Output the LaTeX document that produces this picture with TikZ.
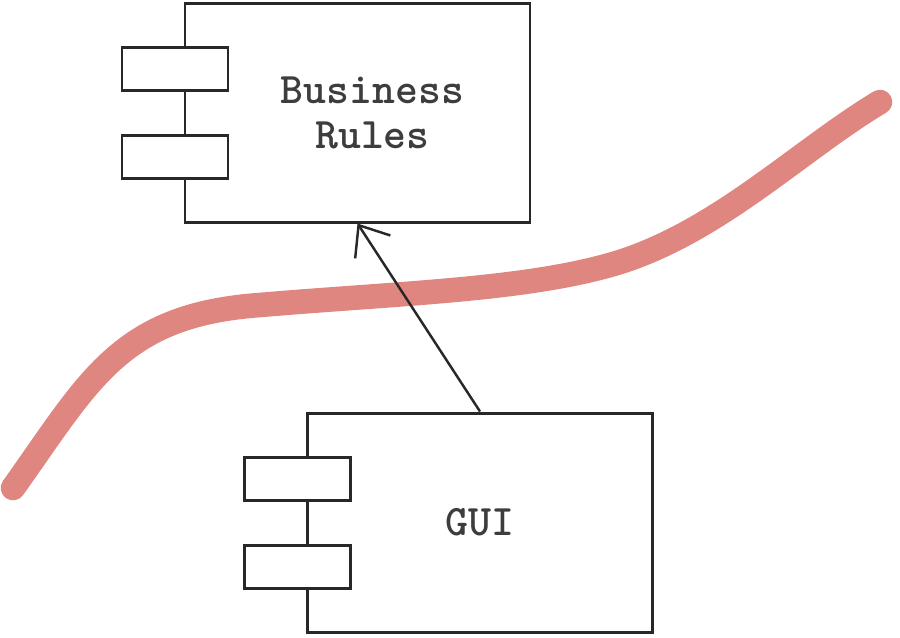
\documentclass[tikz,border=0pt]{standalone}
\usepackage{fontspec}
\usepackage{tikz}
\usetikzlibrary{arrows.meta,positioning,calc}
\usepackage{xcolor}
\definecolor{boundred}{RGB}{224,134,128}
\definecolor{inkgray}{RGB}{40,40,40}

\begin{document}
\begin{tikzpicture}[
    compbox/.style={draw=inkgray, line width=0.85pt, fill=white, align=center, font=\fontsize{12.4}{15}\selectfont\ttfamily\bfseries, text=inkgray!90, minimum width=3.45cm, minimum height=2.19cm},
    tabbox/.style={draw=inkgray, line width=0.85pt, fill=white, minimum width=1.06cm, minimum height=0.43cm},
    boundary/.style={line width=7pt, color=boundred, line cap=round},
    dep/.style={-{Straight Barb[length=2.6mm,width=4.2mm]}, line width=0.7pt, color=inkgray}
  ]
    \useasboundingbox (0,0) rectangle (9,-6.37);

    % boundary line
    \draw[boundary] (0.13,-4.88) .. controls (0.9,-3.8) and (1.2,-3.15) .. (2.6,-3.05)
      .. controls (4.0,-2.93) and (5.3,-2.9) .. (6.2,-2.62)
      .. controls (7.2,-2.3) and (8.0,-1.5) .. (8.8,-1.02);

    \node[compbox] (rules) at (3.575,-1.125) {\hspace*{0.3cm}Business\\[-2.2pt]\hspace*{0.3cm}Rules};
    \node[tabbox] (rulestop) at (1.75,-0.685) {};
    \node[tabbox] (rulesbot) at (1.75,-1.565) {};

    \node[compbox] (gui) at (4.8,-5.225) {GUI};
    \node[tabbox] (guitop) at (2.975,-4.79) {};
    \node[tabbox] (guibot) at (2.975,-5.665) {};

    \draw[dep] (gui.north) -- (rules.south);
  \end{tikzpicture}
\end{document}
